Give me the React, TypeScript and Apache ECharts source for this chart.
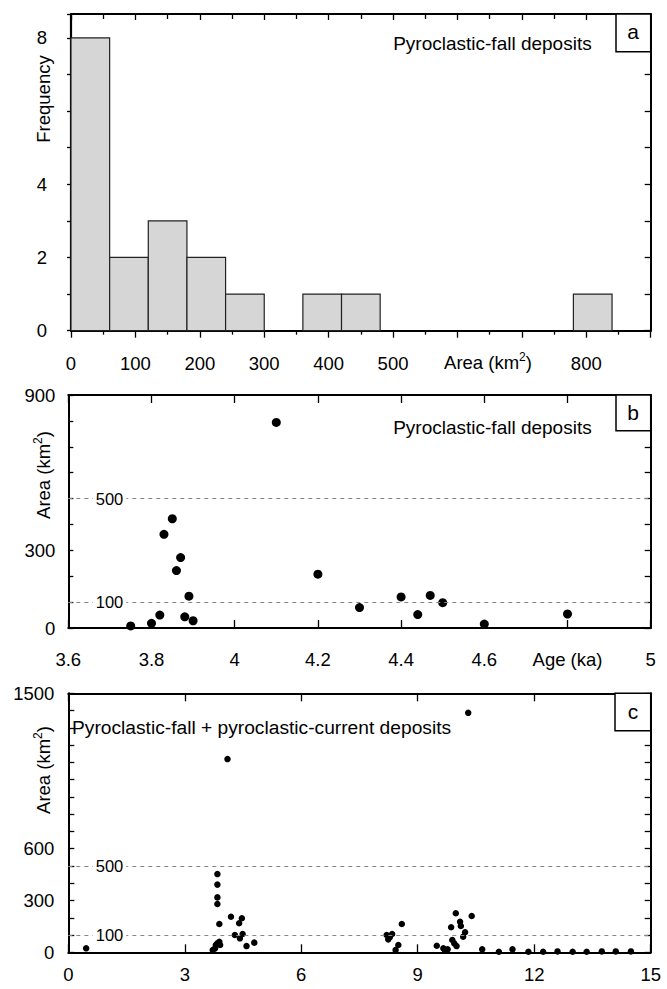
import React, { useEffect, useRef } from "react";
import * as echarts from "echarts";

// ---------- data ----------
const binStart = [0, 60, 120, 180, 240, 300, 360, 420, 480, 540, 600, 660, 720, 780];
const frequency = [8, 2, 3, 2, 1, 0, 1, 1, 0, 0, 0, 0, 0, 1];
const BIN_WIDTH = 60;
const areaTickLabels = [0, 100, 200, 300, 400, 500, 800];
const freqTickLabels = [0, 2, 4, 8];

const ageB = [3.75, 3.8, 3.82, 3.83, 3.85, 3.86, 3.87, 3.88, 3.89, 3.9, 4.1, 4.2, 4.3, 4.4, 4.44, 4.47, 4.5, 4.6, 4.8];
const areaB = [8, 18, 50, 362, 422, 222, 272, 43, 123, 28, 794, 208, 79, 120, 52, 126, 98, 15, 54];
const areaBTickLabels = [0, 300, 900];

const ageC = [
  0.46,
  3.72, 3.78, 3.8, 3.84, 3.89, 3.91, 3.89, 3.84, 3.84, 3.84, 3.84, 4.1, 4.19, 4.47, 4.4, 4.29, 4.49, 4.42, 4.59, 4.79,
  8.2, 8.28, 8.34, 8.24, 8.59, 8.5, 8.43,
  9.49, 9.66, 9.77, 9.7, 9.86, 9.98, 10.09, 10.11, 10.22, 10.17, 9.89, 9.94, 10.0, 10.39, 10.3, 10.66,
  11.09, 11.44, 11.85, 12.23, 12.6, 12.99, 13.35, 13.74, 14.1, 14.49,
];
const areaC = [
  23,
  13, 23, 42, 52, 61, 42, 164, 280, 318, 392, 453, 1119, 206, 197, 168, 100, 106, 81, 36, 56,
  100, 87, 106, 75, 164, 42, 13,
  38, 23, 17, 13, 145, 226, 177, 152, 116, 90, 71, 52, 36, 210, 1387, 17,
  3, 17, 3, 3, 5, 3, 3, 5, 5, 5,
];
const areaCTickLabels = [0, 300, 600, 1500];
const refLines = [500, 100];

const FONT = "Liberation Sans, Arial, sans-serif";

function App() {
  const ref = useRef<HTMLDivElement>(null);
  useEffect(() => {
    if (!ref.current) return;
    const chart = echarts.init(ref.current, null, { renderer: "svg" });
    const black = "#000";
    const lbl = { color: black, fontFamily: FONT, fontSize: 18.5 };
    const noSplit = { splitLine: { show: false }, minorSplitLine: { show: false } };
    const line = (w: number) => ({ show: true, onZero: false, lineStyle: { color: black, width: w } });
    const tick = (inside: boolean, length: number) => ({ show: true, inside, length, lineStyle: { color: black, width: 1.3 } });
    const pick = (list: number[]) => (v: number) => (list.some((t) => Math.abs(t - v) < 1e-6) ? String(v) : "");

    const histData = binStart
      .map((s, i) => [s, s + BIN_WIDTH, frequency[i]])
      .filter((d) => d[2] > 0);

    const markLine = {
      silent: true,
      symbol: "none",
      lineStyle: { color: "#888", type: [4, 4], width: 1 },
      label: {
        show: true,
        position: "start",
        distance: -58,
        formatter: "{c}",
        color: black,
        fontFamily: FONT,
        fontSize: 16.5,
        backgroundColor: "#fff",
        padding: [0, 3],
      },
      data: refLines.map((v) => ({ yAxis: v })),
    };

    const rich = { sup: { fontSize: 12, padding: [0, 0, 10, 0], fontFamily: FONT, fill: black } };
    const txt = (x: number, y: number, text: string, align: string, size = 18.5, rotation = 0) => ({
      type: "text",
      x,
      y,
      rotation,
      z: 100,
      style: {
        text,
        fill: black,
        fontFamily: FONT,
        fontSize: size,
        align,
        verticalAlign: "middle",
        textAlign: align,
        textVerticalAlign: "middle",
        rich,
      },
    });
    const box = (x: number, y: number, w: number, h: number) => ({
      type: "rect",
      z: 99,
      shape: { x, y, width: w, height: h },
      style: { fill: "#fff", stroke: black, lineWidth: 1.5 },
    });

    chart.setOption({
      animation: false,
      backgroundColor: "#fff",
      grid: [
        { left: 71, top: 14, width: 579.7, height: 316.7 },
        { left: 68.3, top: 395, width: 582.4, height: 233 },
        { left: 68.3, top: 693.3, width: 582.4, height: 259 },
      ],
      xAxis: [
        {
          gridIndex: 0, type: "value", min: 0, max: 900, interval: 100, position: "bottom",
          axisLine: line(2.2), axisTick: tick(false, 7),
          minorTick: { show: true, splitNumber: 2, length: 4, lineStyle: { color: black, width: 1.3 } },
          axisLabel: { ...lbl, margin: 23, formatter: pick(areaTickLabels) }, ...noSplit,
        },
        {
          gridIndex: 0, type: "value", min: 0, max: 900, interval: 100, position: "top",
          axisLine: line(2), axisTick: tick(true, 6),
          minorTick: { show: true, splitNumber: 2, length: 5, lineStyle: { color: black, width: 1.3 } },
          axisLabel: { show: false }, ...noSplit,
        },
        {
          gridIndex: 1, type: "value", min: 3.6, max: 5, interval: 0.2, position: "bottom",
          axisLine: line(2), axisTick: tick(true, 8),
          axisLabel: {
            ...lbl, margin: 22,
            formatter: (v: number) => {
              const r = Math.round(v * 10) / 10;
              return Math.abs(r - 4.8) < 1e-6 ? "Age (ka)" : String(r);
            },
          },
          ...noSplit,
        },
        {
          gridIndex: 1, type: "value", min: 3.6, max: 5, interval: 0.2, position: "top",
          axisLine: line(2), axisTick: tick(true, 8), axisLabel: { show: false }, ...noSplit,
        },
        {
          gridIndex: 2, type: "value", min: 0, max: 15, interval: 3, position: "bottom",
          axisLine: line(2), axisTick: tick(true, 8),
          axisLabel: { ...lbl, margin: 13 }, ...noSplit,
        },
        {
          gridIndex: 2, type: "value", min: 0, max: 15, interval: 3, position: "top",
          axisLine: line(2), axisTick: tick(true, 8), axisLabel: { show: false }, ...noSplit,
        },
      ],
      yAxis: [
        {
          gridIndex: 0, type: "value", min: 0, max: 8.65, interval: 1, position: "left",
          axisLine: line(2.2), axisTick: tick(false, 4),
          axisLabel: { ...lbl, margin: 24, formatter: pick(freqTickLabels) }, ...noSplit,
        },
        {
          gridIndex: 0, type: "value", min: 0, max: 8.65, interval: 1, position: "right",
          axisLine: line(2), axisTick: tick(true, 6), axisLabel: { show: false }, ...noSplit,
        },
        {
          gridIndex: 1, type: "value", min: 0, max: 900, interval: 100, position: "left",
          axisLine: line(2), axisTick: tick(true, 5),
          axisLabel: { ...lbl, margin: 13, formatter: pick(areaBTickLabels) }, ...noSplit,
        },
        {
          gridIndex: 1, type: "value", min: 0, max: 900, interval: 100, position: "right",
          axisLine: line(2), axisTick: tick(true, 6), axisLabel: { show: false }, ...noSplit,
        },
        {
          gridIndex: 2, type: "value", min: 0, max: 1500, interval: 100, position: "left",
          axisLine: line(2), axisTick: tick(true, 6),
          axisLabel: { ...lbl, margin: 14, formatter: pick(areaCTickLabels) }, ...noSplit,
        },
        {
          gridIndex: 2, type: "value", min: 0, max: 1500, interval: 100, position: "right",
          axisLine: line(2), axisTick: tick(true, 6), axisLabel: { show: false }, ...noSplit,
        },
      ],
      series: [
        {
          type: "custom",
          xAxisIndex: 0,
          yAxisIndex: 0,
          encode: { x: [0, 1], y: 2 },
          data: histData,
          renderItem: (params: any, api: any) => {
            const p0 = api.coord([api.value(0), api.value(2)]);
            const p1 = api.coord([api.value(1), 0]);
            return {
              type: "rect",
              shape: { x: p0[0], y: p0[1], width: p1[0] - p0[0], height: p1[1] - p0[1] },
              style: { fill: "#d6d6d6", stroke: "#222", lineWidth: 1.2 },
            };
          },
        },
        {
          type: "scatter",
          xAxisIndex: 2,
          yAxisIndex: 2,
          symbolSize: 9,
          itemStyle: { color: black, opacity: 1 },
          data: ageB.map((a, i) => [a, areaB[i]]),
          markLine,
          z: 3,
        },
        {
          type: "scatter",
          xAxisIndex: 4,
          yAxisIndex: 4,
          symbolSize: 6.5,
          itemStyle: { color: black, opacity: 1 },
          data: ageC.map((a, i) => [a, areaC[i]]),
          markLine,
          z: 3,
        },
      ],
      graphic: [
        txt(43.5, 99, "Frequency", "center", 18.5, Math.PI / 2),
        txt(43, 475, "Area (km{sup|2})", "center", 18.5, Math.PI / 2),
        txt(43, 770, "Area (km{sup|2})", "center", 18.5, Math.PI / 2),
        txt(488, 362, "Area (km{sup|2})", "center", 18.5),
        txt(591.7, 43, "Pyroclastic-fall deposits", "right", 19),
        txt(591.7, 427, "Pyroclastic-fall deposits", "right", 19),
        txt(72, 727, "Pyroclastic-fall + pyroclastic-current deposits", "left", 19.2),
        box(616, 14, 34.7, 37.7),
        txt(633, 31, "a", "center", 21),
        box(616, 395, 34.7, 35.7),
        txt(633, 412, "b", "center", 21),
        box(615, 693.3, 35.7, 37.4),
        txt(633, 711, "c", "center", 21),
      ],
    });
    return () => chart.dispose();
  }, []);
  return (
    <div
      ref={ref}
      style={{ position: "absolute", left: 0, top: 0, width: 667, height: 989, background: "#fff" }}
    />
  );
}

export default App;
